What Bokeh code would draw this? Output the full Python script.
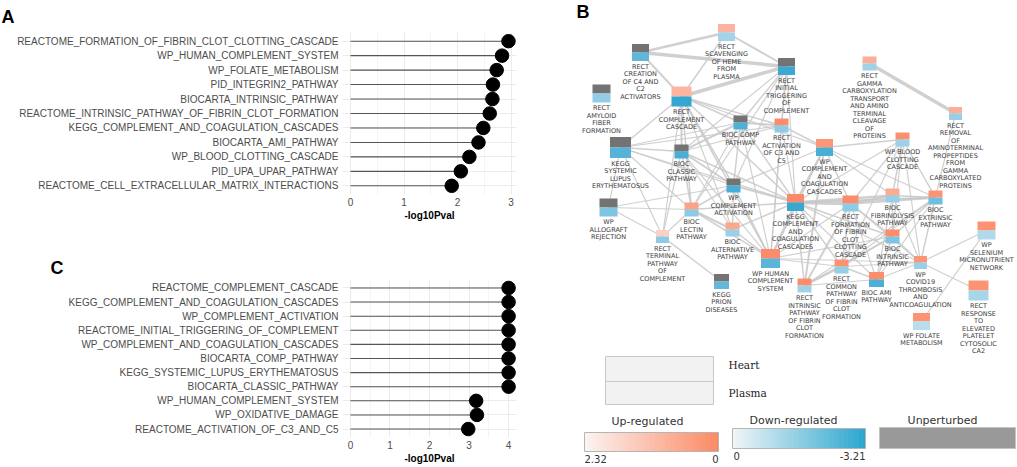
import numpy as np
from bokeh.plotting import figure
from bokeh.models import FactorRange, Range1d, FixedTicker, ColumnDataSource
from bokeh.layouts import row, column
from bokeh.embed import file_html
from bokeh.resources import INLINE
from bokeh.core.properties import value

# ---------------- data ----------------
a_pathways = [
    "REACTOME_FORMATION_OF_FIBRIN_CLOT_CLOTTING_CASCADE",
    "WP_HUMAN_COMPLEMENT_SYSTEM",
    "WP_FOLATE_METABOLISM",
    "PID_INTEGRIN2_PATHWAY",
    "BIOCARTA_INTRINSIC_PATHWAY",
    "REACTOME_INTRINSIC_PATHWAY_OF_FIBRIN_CLOT_FORMATION",
    "KEGG_COMPLEMENT_AND_COAGULATION_CASCADES",
    "BIOCARTA_AMI_PATHWAY",
    "WP_BLOOD_CLOTTING_CASCADE",
    "PID_UPA_UPAR_PATHWAY",
    "REACTOME_CELL_EXTRACELLULAR_MATRIX_INTERACTIONS",
]
a_log10p = [2.95, 2.83, 2.73, 2.66, 2.65, 2.60, 2.48, 2.39, 2.22, 2.06, 1.89]

c_pathways = [
    "REACTOME_COMPLEMENT_CASCADE",
    "KEGG_COMPLEMENT_AND_COAGULATION_CASCADES",
    "WP_COMPLEMENT_ACTIVATION",
    "REACTOME_INITIAL_TRIGGERING_OF_COMPLEMENT",
    "WP_COMPLEMENT_AND_COAGULATION_CASCADES",
    "BIOCARTA_COMP_PATHWAY",
    "KEGG_SYSTEMIC_LUPUS_ERYTHEMATOSUS",
    "BIOCARTA_CLASSIC_PATHWAY",
    "WP_HUMAN_COMPLEMENT_SYSTEM",
    "WP_OXIDATIVE_DAMAGE",
    "REACTOME_ACTIVATION_OF_C3_AND_C5",
]
c_log10p = [4.0, 4.0, 4.0, 4.0, 4.0, 4.0, 4.0, 4.0, 3.18, 3.20, 2.98]

GREY = "#737373"
node_keys = ["SCAV", "CREA", "INIT", "AMYL", "CC", "BCOMP", "C3C5", "GAMMA", "REMOV",
             "SLE", "CLASS", "WPCC", "BLOOD", "ALLO", "WPCA", "LECT", "TERM", "ALT",
             "PRION", "HUMAN", "KEGGCC", "FORM", "FIBR", "EXTR", "BINTR", "SELEN",
             "COMMON", "AMI", "COVID", "RINTR", "RESP", "FOLATE"]
node_labels = [
    "RECT\nSCAVENGING\nOF HEME\nFROM\nPLASMA",
    "RECT\nCREATION\nOF C4 AND\nC2\nACTIVATORS",
    "RECT\nINITIAL\nTRIGGERING\nOF\nCOMPLEMENT",
    "RECT\nAMYLOID\nFIBER\nFORMATION",
    "RECT\nCOMPLEMENT\nCASCADE",
    "BIOC COMP\nPATHWAY",
    "RECT\nACTIVATION\nOF C3 AND\nC5",
    "RECT\nGAMMA\nCARBOXYLATION\nTRANSPORT\nAND AMINO\nTERMINAL\nCLEAVAGE\nOF\nPROTEINS",
    "RECT\nREMOVAL\nOF\nAMINOTERMINAL\nPROPEPTIDES\nFROM\nGAMMA\nCARBOXYLATED\nPROTEINS",
    "KEGG\nSYSTEMIC\nLUPUS\nERYTHEMATOSUS",
    "BIOC\nCLASSIC\nPATHWAY",
    "WP\nCOMPLEMENT\nAND\nCOAGULATION\nCASCADES",
    "WP BLOOD\nCLOTTING\nCASCADE",
    "WP\nALLOGRAFT\nREJECTION",
    "WP\nCOMPLEMENT\nACTIVATION",
    "BIOC\nLECTIN\nPATHWAY",
    "RECT\nTERMINAL\nPATHWAY\nOF\nCOMPLEMENT",
    "BIOC\nALTERNATIVE\nPATHWAY",
    "KEGG\nPRION\nDISEASES",
    "WP HUMAN\nCOMPLEMENT\nSYSTEM",
    "KEGG\nCOMPLEMENT\nAND\nCOAGULATION\nCASCADES",
    "RECT\nFORMATION\nOF FIBRIN\nCLOT\nCLOTTING\nCASCADE",
    "BIOC\nFIBRINOLYSIS\nPATHWAY",
    "BIOC\nEXTRINSIC\nPATHWAY",
    "BIOC\nINTRINSIC\nPATHWAY",
    "WP\nSELENIUM\nMICRONUTRIENT\nNETWORK",
    "RECT\nCOMMON\nPATHWAY\nOF FIBRIN\nCLOT\nFORMATION",
    "BIOC AMI\nPATHWAY",
    "WP\nCOVID19\nTHROMBOSIS\nAND\nANTICOAGULATION",
    "RECT\nINTRINSIC\nPATHWAY\nOF FIBRIN\nCLOT\nFORMATION",
    "RECT\nRESPONSE\nTO\nELEVATED\nPLATELET\nCYTOSOLIC\nCA2",
    "WP FOLATE\nMETABOLISM",
]
node_x = [726, 640, 786, 601, 681, 740, 781, 869, 955, 620, 681, 824, 902, 608, 733, 691,
          662, 732, 721, 770, 795, 850, 892, 935, 892, 986, 841, 876, 920, 804, 978, 921]
node_y = [32, 52, 66, 93, 96, 122, 125, 63, 113, 147, 151, 147, 139, 207, 185, 209,
          236, 229, 281, 258, 202, 203, 195, 197, 236, 230, 266, 279, 262, 285, 290, 321]
node_size = [17, 17, 17, 18, 20, 14, 14, 14, 13, 21, 14, 17, 14, 18, 14, 14,
             13, 14, 15, 19, 17, 16, 14, 14, 14, 18, 14, 15, 13, 14, 20, 17]
heart_col = ["#fcb39f", GREY, GREY, GREY, "#fcb5a0", GREY, "#fc8c6b", "#fcae98", "#fcae98",
             GREY, GREY, "#fc9676", "#fc8f6f", GREY, GREY, "#fca386", "#fdd0c3", "#fca88d",
             GREY, "#fc8b6b", "#fc8a6a", "#fc8d6c", "#fcaa90", "#fc9373", "#fc8d6c", "#fc9272",
             "#fc9272", "#fc8e6d", "#fc9575", "#fc8e6d", "#fc9474", "#fc9373"]
plasma_col = ["#a4d4e9", "#5fb7da", "#3da8d1", "#93cde5", "#35a6d0", "#4fb0d6", "#8ecbe4",
              "#9fd2e7", "#98cfe6", "#55b3d8", "#4aaed5", "#48aed5", "#9ed1e6", "#7fc4e0",
              "#48aed5", "#8ecbe3", "#8dcae3", "#9bd0e6", "#63b8da", "#5ab5d9", "#3aa7d0",
              "#8ecbe4", "#98cfe6", "#6fbedd", "#7fc4e0", "#b0daec", "#95cee5", "#4cb0d6",
              "#9ad0e6", "#a0d3e7", "#a6d6ea", "#b8ddee"]

edges = [
    ("CREA", "SCAV", 2.5), ("CREA", "INIT", 3.5), ("SCAV", "INIT", 2), ("SCAV", "CC", 1.5),
    ("CC", "INIT", 3.5), ("CREA", "CC", 2), ("GAMMA", "REMOV", 3.5),
    ("CC", "BCOMP", 1.5), ("CC", "C3C5", 1.5), ("CC", "SLE", 1.5), ("CC", "CLASS", 2),
    ("CC", "WPCA", 1.5), ("CC", "LECT", 1.5), ("CC", "ALT", 1.2), ("CC", "KEGGCC", 1.5),
    ("CC", "HUMAN", 1.5), ("CC", "WPCC", 1.2), ("CC", "TERM", 1.2),
    ("INIT", "BCOMP", 1.5), ("INIT", "C3C5", 1.5), ("INIT", "CLASS", 1.2), ("INIT", "WPCA", 1.2),
    ("INIT", "LECT", 1.2), ("INIT", "KEGGCC", 1.2), ("INIT", "HUMAN", 1.2),
    ("BCOMP", "C3C5", 2), ("BCOMP", "SLE", 1.2), ("BCOMP", "CLASS", 2), ("BCOMP", "WPCA", 1.5),
    ("BCOMP", "KEGGCC", 1.5), ("BCOMP", "HUMAN", 1.2), ("BCOMP", "LECT", 1.2),
    ("C3C5", "WPCC", 1.5), ("C3C5", "KEGGCC", 1.2), ("C3C5", "SLE", 1.2), ("C3C5", "HUMAN", 1.2),
    ("C3C5", "CLASS", 1.2),
    ("SLE", "CLASS", 1.5), ("SLE", "WPCA", 1.2), ("SLE", "ALLO", 1.2), ("SLE", "LECT", 1.2),
    ("SLE", "KEGGCC", 1.2), ("SLE", "TERM", 1.2),
    ("CLASS", "WPCA", 2), ("CLASS", "LECT", 1.5), ("CLASS", "KEGGCC", 1.5), ("CLASS", "HUMAN", 1.2),
    ("CLASS", "ALT", 1.2), ("CLASS", "TERM", 1.2),
    ("WPCA", "LECT", 1.5), ("WPCA", "ALT", 1.5), ("WPCA", "KEGGCC", 2), ("WPCA", "HUMAN", 1.5),
    ("WPCA", "WPCC", 1.2), ("WPCA", "ALLO", 1.2),
    ("LECT", "ALT", 2), ("LECT", "KEGGCC", 1.5), ("LECT", "HUMAN", 1.5), ("LECT", "ALLO", 1.2),
    ("LECT", "TERM", 1.2), ("ALT", "KEGGCC", 1.5), ("ALT", "HUMAN", 1.5),
    ("TERM", "PRION", 1.5), ("TERM", "ALLO", 1.2),
    ("HUMAN", "KEGGCC", 2), ("HUMAN", "WPCC", 1.5), ("HUMAN", "FORM", 1.2), ("HUMAN", "COMMON", 1.2),
    ("HUMAN", "BINTR", 1.2), ("HUMAN", "COVID", 1.2),
    ("KEGGCC", "WPCC", 2), ("KEGGCC", "FORM", 3.5), ("KEGGCC", "FIBR", 2.5), ("KEGGCC", "EXTR", 2),
    ("KEGGCC", "BINTR", 1.5), ("KEGGCC", "COMMON", 1.5), ("KEGGCC", "RINTR", 1.5),
    ("KEGGCC", "AMI", 1.2), ("KEGGCC", "COVID", 1.2), ("KEGGCC", "BLOOD", 1.2),
    ("WPCC", "FORM", 1.5), ("WPCC", "BLOOD", 1.5), ("WPCC", "FIBR", 1.2), ("WPCC", "EXTR", 1.2),
    ("WPCC", "RINTR", 2),
    ("FORM", "FIBR", 2), ("FORM", "EXTR", 2.5), ("FORM", "BINTR", 1.5), ("FORM", "COMMON", 1.5),
    ("FORM", "AMI", 1.2), ("FORM", "COVID", 1.2), ("FORM", "RINTR", 2), ("FORM", "BLOOD", 1.2),
    ("BLOOD", "FIBR", 1.5), ("BLOOD", "EXTR", 1.5), ("BLOOD", "BINTR", 1.2), ("BLOOD", "COVID", 1.2),
    ("BLOOD", "COMMON", 1.2),
    ("FIBR", "EXTR", 1.5), ("FIBR", "BINTR", 1.5), ("FIBR", "COVID", 1.2), ("FIBR", "AMI", 1.2),
    ("EXTR", "BINTR", 1.5), ("EXTR", "COVID", 1.5), ("EXTR", "COMMON", 1.2), ("EXTR", "AMI", 1.2),
    ("EXTR", "RINTR", 1.2),
    ("BINTR", "COMMON", 1.5), ("BINTR", "AMI", 1.5), ("BINTR", "COVID", 1.5), ("BINTR", "RINTR", 1.2),
    ("COMMON", "AMI", 1.5), ("COMMON", "RINTR", 2), ("COMMON", "COVID", 1.2),
    ("AMI", "COVID", 1.2), ("AMI", "RINTR", 1.2),
    ("COVID", "SELEN", 1.2), ("COVID", "RESP", 1.2), ("FOLATE", "SELEN", 1.2), ("REMOV", "EXTR", 1.2),
]

up_ticks = ["2.32", "0"]
down_ticks = ["0", "-3.21"]

# ---------------- lollipop panels ----------------
SANS = "Liberation Sans"


def lollipop(labels, vals, xr, ticks, minor, width, height, bl, br, bt, bb, letter, tstand):
    p = figure(width=width, height=height,
               y_range=FactorRange(factors=labels[::-1], range_padding=0.1,
                                   range_padding_units="absolute"),
               x_range=Range1d(*xr), output_backend="svg", toolbar_location=None,
               min_border_left=bl, min_border_right=br, min_border_top=bt,
               min_border_bottom=bb, outline_line_color=None)
    src = ColumnDataSource(dict(y=labels, x=vals, x0=[0] * len(vals)))
    p.segment(x0="x0", y0="y", x1="x", y1="y", source=src, line_color="#555555", line_width=1.1)
    p.scatter(x="x", y="y", source=src, size=13.5, color="black")
    p.xaxis.ticker = FixedTicker(ticks=ticks, minor_ticks=minor)
    p.xgrid.grid_line_color = "#ebebeb"
    p.xgrid.minor_grid_line_color = "#f4f4f4"
    p.ygrid.grid_line_color = "#ebebeb"
    for ax in (p.xaxis[0], p.yaxis[0]):
        ax.axis_line_color = None
        ax.major_tick_line_color = None
        ax.minor_tick_line_color = None
        ax.major_tick_out = 0
        ax.major_label_text_font = SANS
        ax.major_label_text_font_size = "10px"
        ax.major_label_text_color = "#4d4d4d"
    p.yaxis.major_label_standoff = 4
    p.xaxis.major_label_standoff = -1
    p.xaxis.axis_label = "-log10Pval"
    p.xaxis.axis_label_text_font = SANS
    p.xaxis.axis_label_text_font_size = "10px"
    p.xaxis.axis_label_text_font_style = "bold"
    p.xaxis.axis_label_text_color = "black"
    p.xaxis.axis_label_standoff = 1
    p.title.text = letter
    p.title.text_font = SANS
    p.title.text_font_size = "18px"
    p.title.text_font_style = "bold"
    p.title.text_color = "black"
    p.title.align = "left"
    p.title.vertical_align = "top"
    p.title.offset = 1 - bl
    p.title.standoff = tstand
    return p


pA = lollipop(a_pathways, a_log10p, (-0.15, 3.1), [0, 1, 2, 3], [0.5, 1.5, 2.5],
              520, 248, 342, 4, 32, 54, "A", 7)
pC = lollipop(c_pathways, c_log10p, (-0.2, 4.2), [0, 1, 2, 3, 4], [0.5, 1.5, 2.5, 3.5],
              520, 218, 293, 2, 31, 27, "C", 0)

# ---------------- network panel ----------------
pB = figure(width=496, height=466, x_range=Range1d(520, 1016), y_range=Range1d(466, 0),
            output_backend="svg", toolbar_location=None, min_border=0,
            outline_line_color=None, x_axis_location=None, y_axis_location=None)
pB.grid.visible = False

idx = {k: i for i, k in enumerate(node_keys)}
exs = [[node_x[idx[a]], node_x[idx[b]]] for a, b, w in edges]
eys = [[node_y[idx[a]], node_y[idx[b]]] for a, b, w in edges]
ews = [w for a, b, w in edges]
pB.multi_line(xs=exs, ys=eys, line_width=ews, line_color="#c8c8c8", line_alpha=0.85)

nx = np.array(node_x, dtype=float)
ny = np.array(node_y, dtype=float)
ns = np.array(node_size, dtype=float)
pB.rect(x=nx, y=ny - ns / 4, width=ns, height=ns / 2, fill_color=heart_col, line_color=None)
pB.rect(x=nx, y=ny + ns / 4, width=ns, height=ns / 2, fill_color=plasma_col, line_color=None)

tx, ty, tt = [], [], []
for x, y, s, lab in zip(node_x, node_y, node_size, node_labels):
    for i, line in enumerate(lab.split("\n")):
        tx.append(x)
        ty.append(y + s / 2 + 5.5 + i * 7.5)
        tt.append(line)
pB.text(x=tx, y=ty, text=tt, text_font=value("DejaVu Sans"), text_font_size="6.5px",
        text_color="#3d3d3d", text_align="center", text_baseline="middle")

pB.text(x=[576], y=[11], text=["B"], text_font=value(SANS), text_font_size="18px",
        text_font_style="bold", text_color="black", text_align="left", text_baseline="middle")

# legend: tissue boxes
pB.quad(left=[605, 605], right=[713, 713], top=[356, 381], bottom=[381, 404],
        fill_color="#f2f2f2", line_color="#c8c8c8", line_width=1)
pB.text(x=[728, 728], y=[364, 392], text=["Heart", "Plasma"], text_font=value("DejaVu Serif"),
        text_font_size="10.5px", text_color="#222222", text_align="left", text_baseline="middle")


def gradient(c0, c1, n=80):
    a = np.array([int(c0[i:i + 2], 16) for i in (1, 3, 5)], dtype=float)
    b = np.array([int(c1[i:i + 2], 16) for i in (1, 3, 5)], dtype=float)
    out = []
    for t in np.linspace(0, 1, n):
        c = (a + (b - a) * t).round().astype(int)
        out.append("#%02x%02x%02x" % tuple(c))
    return out


def colour_bar(x0, x1, y0, y1, c0, c1):
    n = 80
    cols = gradient(c0, c1, n)
    ex = np.linspace(x0, x1, n + 1)
    right = np.minimum(ex[1:] + 0.6, x1)
    pB.quad(left=ex[:-1], right=right, top=y0, bottom=y1, fill_color=cols, line_color=None)
    pB.quad(left=[x0], right=[x1], top=[y0], bottom=[y1], fill_color=None,
            line_color="#b5b5b5", line_width=1)


colour_bar(584, 718, 432, 451, "#fbf3f1", "#fb8a64")
colour_bar(732, 865, 428, 448, "#f1f5f7", "#2aa6cf")
pB.quad(left=[879], right=[1015], top=[427], bottom=[448], fill_color="#999999",
        line_color="#c4c4c4", line_width=1)

pB.text(x=[647, 793, 942], y=[421, 420, 420],
        text=["Up-regulated", "Down-regulated", "Unperturbed"],
        text_font=value("DejaVu Sans"), text_font_size="11px", text_color="#333333",
        text_align="center", text_baseline="middle")
pB.text(x=[584, 733], y=[458, 455], text=[up_ticks[0], down_ticks[0]],
        text_font=value("DejaVu Sans"), text_font_size="10px", text_color="#333333",
        text_align="left", text_baseline="middle")
pB.text(x=[718, 865], y=[458, 455], text=[up_ticks[1], down_ticks[1]],
        text_font=value("DejaVu Sans"), text_font_size="10px", text_color="#333333",
        text_align="right", text_baseline="middle")

layout = row(column(pA, pC), pB)
open("out.html", "w").write(file_html(layout, INLINE))
